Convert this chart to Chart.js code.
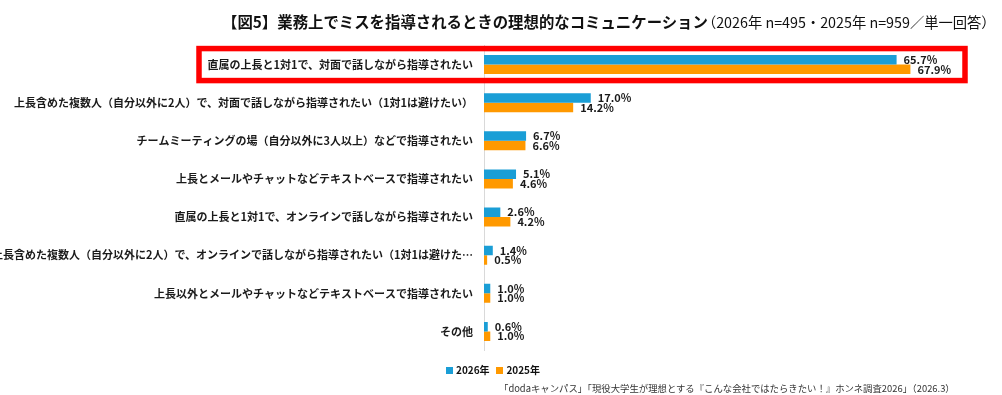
<!DOCTYPE html>
<html>
<head>
<meta charset="utf-8">
<script src="https://cdn.jsdelivr.net/npm/chart.js@4"></script>
<style>
  body { margin: 0; background: #fff; font-family: "Noto Sans CJK JP", sans-serif; }
  #wrap { position: relative; width: 1002px; height: 395px; }
  #title { position: absolute; left: 222px; top: 9px; white-space: nowrap; color: #111; }
  #title b { font-size: 15.4px; }
  #title span { font-size: 14.3px; margin-left: -6px; }
  #legend { position: absolute; left: 446px; top: 362px; font-size: 10px; font-weight: bold; color: #111; white-space: nowrap; }
  #legend i { display: inline-block; width: 7px; height: 7px; margin-right: 3px; vertical-align: 0px; }
  #source { position: absolute; left: 499px; top: 381px; font-size: 9.4px; color: #333; white-space: nowrap; }
</style>
</head>
<body>
<div id="wrap">
  <canvas id="myChart" width="1002" height="395"></canvas>
  <div id="title"><b>【図5】業務上でミスを指導されるときの理想的なコミュニケーション</b><span>（2026年 n=495・2025年 n=959／単一回答）</span></div>
  <div id="legend"><i style="background:#1a9ed6"></i>2026年&nbsp;&nbsp;&nbsp;<i style="background:#ff9900"></i>2025年</div>
  <div id="source">「dodaキャンパス」「現役大学生が理想とする『こんな会社ではたらきたい！』ホンネ調査2026」（2026.3）</div>
</div>
<script>
const categories = [
  '直属の上長と1対1で、対面で話しながら指導されたい',
  '上長含めた複数人（自分以外に2人）で、対面で話しながら指導されたい（1対1は避けたい）',
  'チームミーティングの場（自分以外に3人以上）などで指導されたい',
  '上長とメールやチャットなどテキストベースで指導されたい',
  '直属の上長と1対1で、オンラインで話しながら指導されたい',
  '上長含めた複数人（自分以外に2人）で、オンラインで話しながら指導されたい（1対1は避けた…',
  '上長以外とメールやチャットなどテキストベースで指導されたい',
  'その他'
]
const values2026 = [65.7, 17.0, 6.7, 5.1, 2.6, 1.4, 1.0, 0.6]
const values2025 = [67.9, 14.2, 6.6, 4.6, 4.2, 0.5, 1.0, 1.0]

// 値ラベル
const valueLabels = {
  id: 'valueLabels',
  afterDatasetsDraw(chart) {
    const ctx = chart.ctx
    ctx.save()
    ctx.font = 'bold 11px "Noto Sans CJK JP"'
    ctx.fillStyle = '#1a1a1a'
    ctx.textBaseline = 'middle'
    ctx.textAlign = 'left'
    chart.data.datasets.forEach((ds, i) => {
      chart.getDatasetMeta(i).data.forEach((bar, j) => {
        ctx.fillText(ds.data[j].toFixed(1) + '%', bar.x + 7, bar.y)
      })
    })
    ctx.restore()
  }
}

// 1位の項目を赤枠で囲む
const highlightBox = {
  id: 'highlightBox',
  afterDraw(chart) {
    const ctx = chart.ctx
    const y = chart.scales.y.getPixelForValue(0)
    ctx.save()
    ctx.strokeStyle = '#ff0000'
    ctx.lineWidth = 5.5
    ctx.strokeRect(199, y - 16, 766, 32)
    ctx.restore()
  }
}

new Chart(document.getElementById('myChart'), {
  type: 'bar',
  data: {
    labels: categories,
    datasets: [
      { label: '2026年', data: values2026, backgroundColor: '#1a9ed6' },
      { label: '2025年', data: values2025, backgroundColor: '#ff9900' }
    ]
  },
  options: {
    indexAxis: 'y',
    responsive: false,
    animation: false,
    layout: { padding: { top: 45.5, bottom: 44.5, right: 47, left: 0 } },
    datasets: { bar: { categoryPercentage: 0.5, barPercentage: 1 } },
    plugins: { legend: { display: false }, tooltip: { enabled: false } },
    scales: {
      x: { display: false, min: 0, max: 75 },
      y: {
        afterFit(scale) { scale.width = 484 },
        grid: { display: false, drawTicks: false },
        border: { display: true, color: '#d9d9d9', width: 1 },
        ticks: {
          padding: 11,
          color: '#1a1a1a',
          font: { family: '"Noto Sans CJK JP"', size: 11, weight: 'bold' }
        }
      }
    }
  },
  plugins: [valueLabels, highlightBox]
})
</script>
</body>
</html>
